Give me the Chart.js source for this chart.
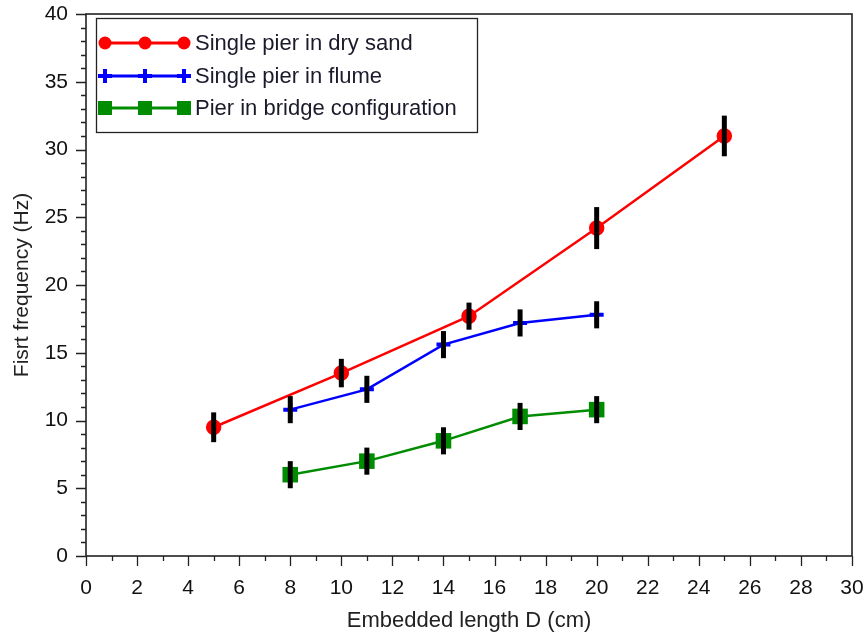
<!DOCTYPE html>
<html>
<head>
<meta charset="utf-8">
<script src="https://cdn.jsdelivr.net/npm/chart.js@4.4.0/dist/chart.umd.min.js"></script>
<style>
  html, body { margin: 0; padding: 0; background: #fff; }
  #wrap { width: 866px; height: 638px; }
</style>
</head>
<body>
<div id="wrap"><canvas id="chart"></canvas></div>
<script>
// data
const seriesNames = ['Single pier in dry sand', 'Single pier in flume', 'Pier in bridge configuration'];
const dryX = [5, 10, 15, 20, 25];
const dryY = [9.5, 13.5, 17.7, 24.2, 31.0];
const dryErr = [1.1, 1.05, 1.0, 1.55, 1.5];
const flumeX = [8, 11, 14, 17, 20];
const flumeY = [10.8, 12.3, 15.6, 17.2, 17.8];
const flumeErr = [1.0, 1.0, 1.0, 1.0, 1.0];
const bridgeX = [8, 11, 14, 17, 20];
const bridgeY = [6.0, 7.0, 8.5, 10.3, 10.8];
const bridgeErr = [1.0, 1.0, 1.0, 1.0, 1.0];

const toPoints = (xs, ys) => xs.map((x, i) => ({ x: x, y: ys[i] }))
const errors = [dryErr, flumeErr, bridgeErr]

const sans = "'Liberation Sans', Arial, sans-serif"

// black vertical error bars on top of the markers
const errorBars = {
  id: 'errorBars',
  afterDatasetsDraw(chart) {
    const ctx = chart.ctx
    const xs = chart.scales.x, ys = chart.scales.y
    ctx.save()
    ctx.strokeStyle = '#000'
    ctx.lineWidth = 5
    chart.data.datasets.forEach((ds, i) => {
      ds.data.forEach((p, j) => {
        const px = xs.getPixelForValue(p.x)
        ctx.beginPath()
        ctx.moveTo(px, ys.getPixelForValue(p.y - errors[i][j]))
        ctx.lineTo(px, ys.getPixelForValue(p.y + errors[i][j]))
        ctx.stroke()
      })
    })
    ctx.restore()
  }
}

// frame, outward ticks (major + minor) and the boxed legend
const frame = {
  id: 'frame',
  afterDraw(chart) {
    const ctx = chart.ctx
    const a = chart.chartArea
    const xs = chart.scales.x, ys = chart.scales.y
    ctx.save()
    ctx.strokeStyle = '#222'
    ctx.lineWidth = 1.6
    ctx.strokeRect(a.left, a.top, a.right - a.left, a.bottom - a.top)

    ctx.lineWidth = 1.3
    ctx.beginPath()
    for (let v = 0; v <= 30; v++) {
      const px = Math.round(xs.getPixelForValue(v)) + 0.5
      ctx.moveTo(px, a.bottom)
      ctx.lineTo(px, a.bottom + (v % 2 === 0 ? 10 : 5))
    }
    for (let v = 0; v <= 40; v++) {
      const py = Math.round(ys.getPixelForValue(v)) + 0.5
      ctx.moveTo(a.left, py)
      ctx.lineTo(a.left - (v % 5 === 0 ? 10 : 5), py)
    }
    ctx.stroke()

    // legend
    const lx = 96, ly = 18, lw = 381, lh = 114
    ctx.fillStyle = '#fff'
    ctx.fillRect(lx, ly, lw, lh)
    ctx.strokeStyle = '#222'
    ctx.lineWidth = 1.3
    ctx.strokeRect(lx + 0.5, ly + 0.5, lw, lh)
    const rows = [43, 76, 108]
    chart.data.datasets.forEach((ds, i) => {
      const y = rows[i]
      ctx.strokeStyle = ds.borderColor
      ctx.lineWidth = 3
      ctx.beginPath()
      ctx.moveTo(105, y)
      ctx.lineTo(184, y)
      ctx.stroke()
      ;[105, 145, 184].forEach((mx) => {
        ctx.fillStyle = ds.pointBackgroundColor
        if (ds.pointStyle === 'circle') {
          ctx.beginPath()
          ctx.arc(mx, y, 6.5, 0, Math.PI * 2)
          ctx.fill()
        } else if (ds.pointStyle === 'rect') {
          ctx.fillRect(mx - 7, y - 7, 14, 14)
        } else {
          ctx.lineWidth = 4
          ctx.beginPath()
          ctx.moveTo(mx - 7, y); ctx.lineTo(mx + 7, y)
          ctx.moveTo(mx, y - 7); ctx.lineTo(mx, y + 7)
          ctx.stroke()
        }
      })
      ctx.fillStyle = '#1a1a2a'
      ctx.font = '22px ' + sans
      ctx.textBaseline = 'middle'
      ctx.textAlign = 'left'
      ctx.fillText(ds.label, 195, y + 1)
    })
    ctx.restore()
  }
}

new Chart(document.getElementById('chart'), {
  type: 'scatter',
  data: {
    datasets: [
      {
        label: seriesNames[0],
        data: toPoints(dryX, dryY),
        showLine: true,
        borderColor: '#ff0000',
        backgroundColor: '#ff0000',
        pointBackgroundColor: '#ff0000',
        pointBorderColor: '#ff0000',
        pointStyle: 'circle',
        pointRadius: 6.5,
        borderWidth: 2.5
      },
      {
        label: seriesNames[1],
        data: toPoints(flumeX, flumeY),
        showLine: true,
        borderColor: '#0000ff',
        backgroundColor: '#0000ff',
        pointBackgroundColor: '#0000ff',
        pointBorderColor: '#0000ff',
        pointStyle: 'cross',
        pointRadius: 7,
        pointBorderWidth: 4,
        borderWidth: 2.5
      },
      {
        label: seriesNames[2],
        data: toPoints(bridgeX, bridgeY),
        showLine: true,
        borderColor: '#008c00',
        backgroundColor: '#008c00',
        pointBackgroundColor: '#008c00',
        pointBorderColor: '#008c00',
        pointStyle: 'rect',
        pointRadius: 11,
        pointBorderWidth: 0,
        borderWidth: 2.5
      }
    ]
  },
  options: {
    responsive: true,
    maintainAspectRatio: false,
    animation: false,
    layout: { padding: { top: 14, right: 14, left: 0, bottom: 0 } },
    plugins: {
      legend: { display: false },
      tooltip: { enabled: false }
    },
    scales: {
      x: {
        type: 'linear',
        min: 0,
        max: 30,
        grid: { display: false },
        border: { display: false },
        ticks: { stepSize: 2, color: '#111', padding: 12, font: { family: sans, size: 21 } },
        title: { display: true, text: 'Embedded length D (cm)', color: '#222', padding: { top: 16 }, font: { family: sans, size: 22 } },
        afterFit: (s) => { s.height = 82; s.paddingLeft = 0; s.paddingRight = 0 }
      },
      y: {
        min: 0,
        max: 40,
        grid: { display: false },
        border: { display: false },
        ticks: { stepSize: 5, color: '#111', padding: 10, font: { family: sans, size: 21 } },
        title: { display: true, text: 'Fisrt frequency (Hz)', color: '#222', padding: { top: 10, bottom: 0 }, font: { family: sans, size: 21 } },
        afterFit: (s) => { s.width = 86; s.paddingTop = 0; s.paddingBottom = 0 }
      }
    }
  },
  plugins: [errorBars, frame]
})
</script>
</body>
</html>
